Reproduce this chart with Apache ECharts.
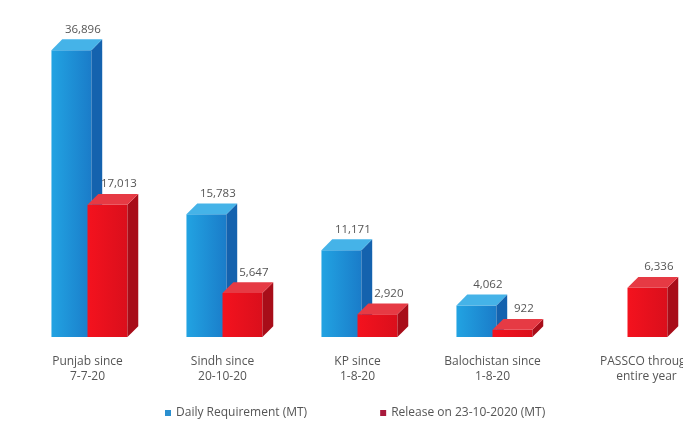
<!DOCTYPE html>
<html><head><meta charset="utf-8">
<script src="https://cdn.jsdelivr.net/npm/echarts@6/dist/echarts.min.js"></script>
<style>html,body{margin:0;padding:0;background:#fff;overflow:hidden}#c{width:720px;height:423px}</style>
</head><body><div id="c"></div>
<script>
const categories = ['Punjab since\n7-7-20','Sindh since\n20-10-20','KP since\n1-8-20','Balochistan since\n1-8-20','PASSCO through\nentire year'];
const dailyRequirement = [36896, 15783, 11171, 4062, null];
const releaseValues = [17013, 5647, 2920, 922, 6336];
const seriesNames = ['Daily Requirement (MT)', 'Release on 23-10-2020 (MT)'];

const chart = echarts.init(document.getElementById('c'));
function fmt(v){ return v.toLocaleString('en-US'); }
function make3D(offsetFrac, front, side, top){
  return function(params, api){
    const v = api.value(1);
    if (v == null || isNaN(v)) return;
    const idx = api.value(0);
    const p = api.coord([idx, v]);
    const b = api.coord([idx, 0]);
    const w = api.size([1, 0])[0];
    const bw = w * 0.296, d = w * 0.08;
    const x0 = p[0] + w * offsetFrac;
    const yt = p[1], yb = b[1];
    return {
      type: 'group',
      children: [
        {type:'rect', shape:{x:x0, y:yt, width:bw, height:yb-yt}, style:{fill: front}},
        {type:'polygon', shape:{points:[[x0+bw,yt],[x0+bw+d,yt-d],[x0+bw+d,yb-d],[x0+bw,yb]]}, style:{fill: side}},
        {type:'polygon', shape:{points:[[x0,yt],[x0+d,yt-d],[x0+bw+d,yt-d],[x0+bw,yt]]}, style:{fill: top}},
        {type:'text', style:{text: fmt(v), x: x0 + (bw+d)/2 + 6, y: yt - d - 4, align:'center', verticalAlign:'bottom', fill:'#555', font:'11.5px "Open Sans", sans-serif'}}
      ]
    };
  };
}
const blueFront = new echarts.graphic.LinearGradient(0,0,1,0,[{offset:0,color:'#22A3E2'},{offset:1,color:'#1A7CC9'}]);
const redFront = new echarts.graphic.LinearGradient(0,0,1,0,[{offset:0,color:'#F4121E'},{offset:1,color:'#DA0F1C'}]);
const catData = categories.map((c, i) => i === categories.length - 1
  ? {value: c, textStyle: {padding: [0, 0, 0, 38]}} : c);
chart.setOption({
  animation: false,
  legend: {
    top: 402, left: 160, itemGap: 73, itemWidth: 6, itemHeight: 6, icon: 'rect',
    textStyle: {fontSize: 12, color: '#555', fontFamily: '"Open Sans", sans-serif'},
    data: [{name: seriesNames[0], itemStyle:{color:'#2A8FCF'}}, {name: seriesNames[1], itemStyle:{color:'#A81A3C'}}]
  },
  grid: {left: 20, width: 675, top: 40, height: 297},
  xAxis: {
    type: 'category', data: catData,
    axisLine: {show: false}, axisTick: {show: false},
    axisLabel: {fontSize: 12, color: '#555', lineHeight: 15, margin: 17, fontFamily: '"Open Sans", sans-serif'}
  },
  yAxis: {type: 'value', min: 0, max: 38200, show: false, splitLine: {show: false}},
  series: [
    {name: seriesNames[0], type: 'custom', itemStyle:{color:'#2A8FCF'},
     renderItem: make3D(-0.267, blueFront, '#1462AE', '#45B3E8'),
     data: dailyRequirement.map((v,i)=>[i, v])},
    {name: seriesNames[1], type: 'custom', itemStyle:{color:'#A81A3C'},
     renderItem: make3D(0.0, redFront, '#A80D19', '#E63A44'),
     data: releaseValues.map((v,i)=>[i, v])}
  ]
});
</script></body></html>
